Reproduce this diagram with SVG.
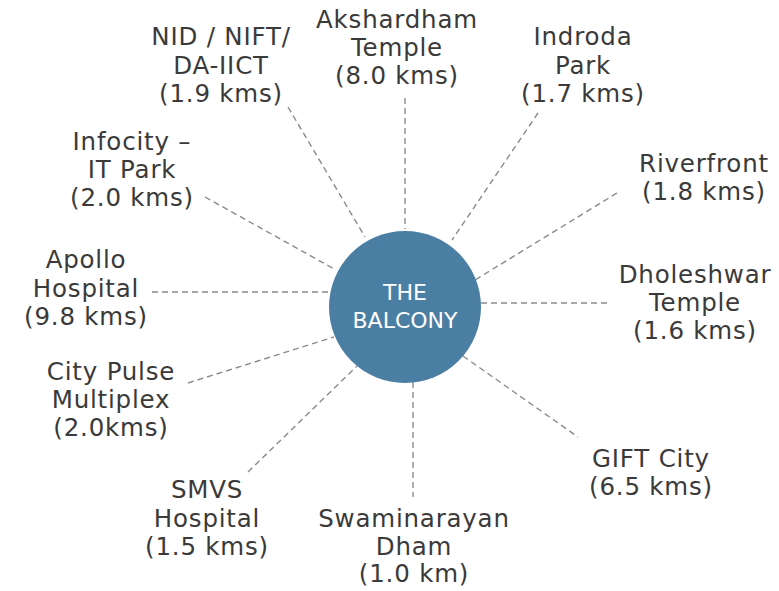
<svg xmlns="http://www.w3.org/2000/svg" width="779" height="591" viewBox="0 0 779 591">
<style>
.lbl{font-family:"DejaVu Sans","Liberation Sans",sans-serif;font-size:24.5px;letter-spacing:0.8px;fill:#3a3a3a;text-anchor:middle}
.ctr{font-family:"DejaVu Sans","Liberation Sans",sans-serif;font-size:22px;fill:#ffffff;text-anchor:middle}
.con line{stroke:#8a8a8a;stroke-width:1.4;stroke-dasharray:6 4;fill:none}
</style>
<rect width="779" height="591" fill="#ffffff"/>
<g id="connectors" class="con">
<line x1="405" y1="98" x2="405" y2="229"/>
<line x1="288" y1="107" x2="365" y2="237"/>
<line x1="538" y1="113" x2="452" y2="240"/>
<line x1="617" y1="193" x2="475" y2="280"/>
<line x1="481" y1="303" x2="608" y2="303"/>
<line x1="463" y1="356" x2="578" y2="437"/>
<line x1="413" y1="382" x2="413" y2="497"/>
<line x1="248" y1="472" x2="357" y2="366"/>
<line x1="188" y1="383" x2="334" y2="337"/>
<line x1="152" y1="292" x2="329" y2="292"/>
<line x1="205" y1="197" x2="336" y2="270"/>
</g>
<g id="center">
<circle cx="405" cy="307" r="76" fill="#4a7ea3"/>
<text class="ctr" x="405" y="300">THE</text>
<text class="ctr" x="405" y="328">BALCONY</text>
</g>
<g id="akshardham">
<text class="lbl" x="397" y="28">Akshardham</text>
<text class="lbl" x="397" y="56">Temple</text>
<text class="lbl" x="397" y="84">(8.0 kms)</text>
</g>
<g id="nid">
<text class="lbl" x="221" y="45">NID / NIFT/</text>
<text class="lbl" x="221" y="74">DA-IICT</text>
<text class="lbl" x="221" y="102">(1.9 kms)</text>
</g>
<g id="indroda">
<text class="lbl" x="583" y="45">Indroda</text>
<text class="lbl" x="583" y="74">Park</text>
<text class="lbl" x="583" y="102">(1.7 kms)</text>
</g>
<g id="riverfront">
<text class="lbl" x="704" y="172">Riverfront</text>
<text class="lbl" x="704" y="200">(1.8 kms)</text>
</g>
<g id="infocity">
<text class="lbl" x="132" y="150">Infocity –</text>
<text class="lbl" x="132" y="178">IT Park</text>
<text class="lbl" x="132" y="206">(2.0 kms)</text>
</g>
<g id="apollo">
<text class="lbl" x="86" y="268">Apollo</text>
<text class="lbl" x="86" y="297">Hospital</text>
<text class="lbl" x="86" y="325">(9.8 kms)</text>
</g>
<g id="citypulse">
<text class="lbl" x="111" y="380">City Pulse</text>
<text class="lbl" x="111" y="408">Multiplex</text>
<text class="lbl" x="111" y="436">(2.0kms)</text>
</g>
<g id="dholeshwar">
<text class="lbl" x="695" y="283">Dholeshwar</text>
<text class="lbl" x="695" y="311">Temple</text>
<text class="lbl" x="695" y="339">(1.6 kms)</text>
</g>
<g id="gift">
<text class="lbl" x="651" y="467">GIFT City</text>
<text class="lbl" x="651" y="495">(6.5 kms)</text>
</g>
<g id="smvs">
<text class="lbl" x="207" y="498">SMVS</text>
<text class="lbl" x="207" y="527">Hospital</text>
<text class="lbl" x="207" y="555">(1.5 kms)</text>
</g>
<g id="swaminarayan">
<text class="lbl" x="414" y="527">Swaminarayan</text>
<text class="lbl" x="414" y="555">Dham</text>
<text class="lbl" x="414" y="582">(1.0 km)</text>
</g>
</svg>
